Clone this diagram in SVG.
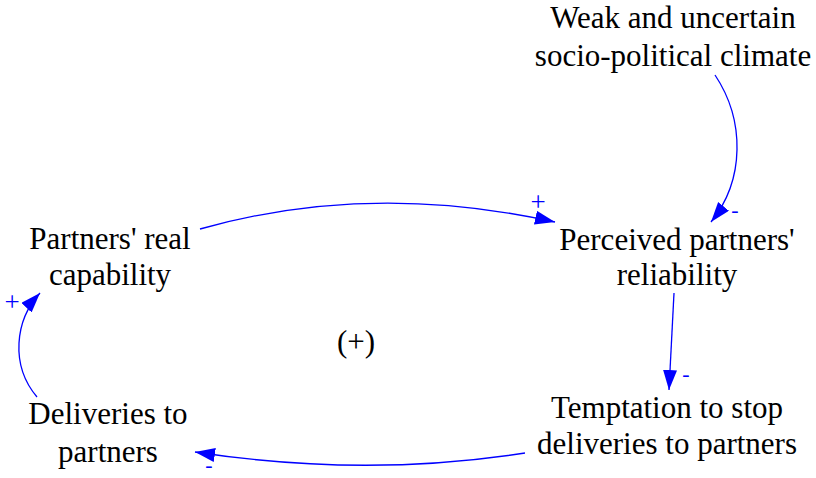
<svg xmlns="http://www.w3.org/2000/svg" width="816" height="478" viewBox="0 0 816 478">
<style>
.t{font-family:'Liberation Serif','Times New Roman','DejaVu Serif',serif;font-size:31px;fill:#000;text-anchor:middle}
.s{font-family:'Liberation Serif','Times New Roman','DejaVu Serif',serif;font-size:22px;fill:#0000ff;text-anchor:middle}
.p{font-size:27px}
.c{fill:none;stroke:#0000ff;stroke-width:1.3;marker-end:url(#ah)}
</style>
<defs>
<marker id="ah" markerUnits="userSpaceOnUse" markerWidth="22" markerHeight="16" refX="20" refY="7" orient="auto">
<path d="M0,0 L20,7 L0,14 z" fill="#0000ff"/>
</marker>
</defs>
<rect width="816" height="478" fill="#fff"/>
<g id="connectors">
<path class="c" d="M200,229 Q370,181 555,222"/>
<path class="c" d="M715,75 C745,120 745,180 711,222"/>
<path class="c" d="M674,293 L669,390"/>
<path class="c" d="M525,453 Q365,478 195,452"/>
<path class="c" d="M37,397 C10,365 15,320 40,293"/>
<text class="s p" x="538" y="211">+</text>
<text class="s" x="735" y="217">-</text>
<text class="s" x="686" y="381">-</text>
<text class="s" x="209" y="472">-</text>
<text class="s p" x="12" y="311">+</text>
</g>
<g id="weak"><text class="t" x="673" y="28">Weak and uncertain</text><text class="t" x="673" y="66">socio-political climate</text></g>
<g id="capability"><text class="t" x="110" y="249">Partners' real</text><text class="t" x="110" y="285">capability</text></g>
<g id="reliability"><text class="t" x="677" y="250">Perceived partners'</text><text class="t" x="677" y="285">reliability</text></g>
<g id="temptation"><text class="t" x="667" y="418">Temptation to stop</text><text class="t" x="667" y="454">deliveries to partners</text></g>
<g id="deliveries"><text class="t" x="108" y="424">Deliveries to</text><text class="t" x="108" y="462">partners</text></g>
<g id="loop"><text class="t" x="356" y="352">(+)</text></g>
</svg>
